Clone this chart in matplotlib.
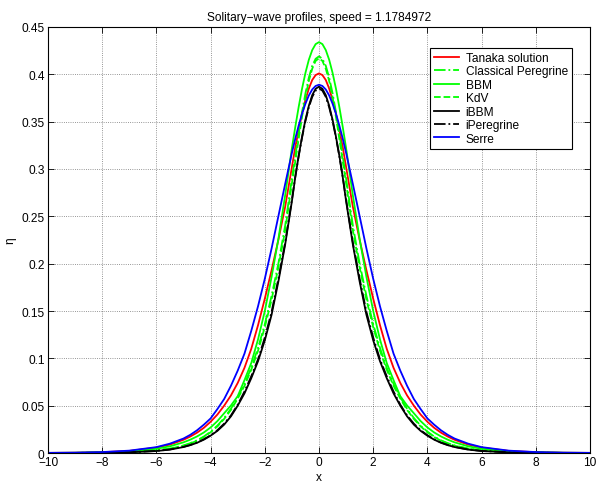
import numpy as np
import matplotlib
matplotlib.use("Agg")
import matplotlib.pyplot as plt
from matplotlib.ticker import FuncFormatter

# half profiles (x >= 0), curves are symmetric about x = 0
x_half = [0, 0.125, 0.25, 0.375, 0.5, 0.625, 0.75, 0.875, 1, 1.25, 1.5, 1.75,
          2, 2.25, 2.5, 2.75, 3, 3.25, 3.5, 3.75, 4, 4.25, 4.5, 4.75, 5, 5.5,
          6, 7, 8, 9, 10]

tanaka = [0.401, 0.3992, 0.394, 0.385, 0.373, 0.3586, 0.341, 0.3232, 0.302,
          0.260, 0.225, 0.193, 0.163, 0.135, 0.110, 0.090, 0.074, 0.0608,
          0.050, 0.0406, 0.033, 0.0266, 0.0215, 0.0174, 0.014, 0.0089, 0.0057,
          0.0022, 0.00085, 0.00033, 0.00013]
peregrine = [0.419, 0.4164, 0.409, 0.3965, 0.380, 0.3601, 0.337, 0.3136, 0.290,
             0.240, 0.200, 0.166, 0.136, 0.111, 0.090, 0.073, 0.059, 0.0467,
             0.037, 0.0289, 0.0226, 0.0174, 0.0134, 0.0104, 0.0080, 0.0047,
             0.0028, 0.0010, 0.00035, 0.00012, 0.00004]
bbm = [0.434, 0.4319, 0.4256, 0.4154, 0.4016, 0.3849, 0.3656, 0.3445, 0.322,
       0.272, 0.226, 0.186, 0.150, 0.120, 0.095, 0.077, 0.060, 0.0502, 0.042,
       0.0337, 0.027, 0.0217, 0.0175, 0.0141, 0.0113, 0.0071, 0.0045, 0.0017,
       0.00065, 0.00025, 0.0001]
kdv = [0.417, 0.4142, 0.406, 0.3931, 0.376, 0.3551, 0.332, 0.308, 0.285,
       0.235, 0.196, 0.162, 0.133, 0.108, 0.088, 0.071, 0.0575, 0.0455, 0.036,
       0.0281, 0.0219, 0.0169, 0.0130, 0.0100, 0.0077, 0.0046, 0.0027,
       0.00095, 0.00034, 0.00012, 0.00004]
ibbm = [0.387, 0.3847, 0.378, 0.3668, 0.3521, 0.3342, 0.3141, 0.2915, 0.266,
        0.220, 0.181, 0.146, 0.119, 0.097, 0.079, 0.063, 0.050, 0.0387, 0.030,
        0.0234, 0.0183, 0.0141, 0.0108, 0.0083, 0.0063, 0.0036, 0.0021,
        0.0007, 0.00025, 0.0001, 0.00003]
iperegrine = [0.385, 0.3828, 0.3762, 0.3652, 0.3508, 0.3333, 0.3136, 0.2918,
              0.2675, 0.222, 0.184, 0.149, 0.122, 0.099, 0.081, 0.065, 0.051,
              0.0397, 0.031, 0.0241, 0.0188, 0.0145, 0.0111, 0.0085, 0.0065,
              0.0038, 0.0022, 0.00075, 0.00026, 0.0001, 0.00003]
serre = [0.389, 0.3877, 0.384, 0.3777, 0.369, 0.3585, 0.346, 0.3321, 0.317,
         0.284, 0.250, 0.216, 0.184, 0.155, 0.129, 0.105, 0.087, 0.0710, 0.057,
         0.0464, 0.0365, 0.0299, 0.0240, 0.0192, 0.0153, 0.0099, 0.0062,
         0.0025, 0.00099, 0.00039, 0.00016]

labels = ["Tanaka solution", "Classical Peregrine", "BBM", "KdV", "iBBM",
          "iPeregrine", "Serre"]


def full(vals):
    # mirror half profile to both sides
    v = np.array(vals)
    return np.concatenate([v[::-1], v[1:]])


xh = np.array(x_half)
x = np.concatenate([-xh[::-1], xh[1:]])

plt.rcParams["font.family"] = ["Liberation Sans", "DejaVu Sans"]
plt.rcParams["font.size"] = 8.6

fig = plt.figure(figsize=(5.97, 4.85), dpi=100)
ax = fig.add_axes([0.0804, 0.0639, 0.9079, 0.8784])

lw = 1.3
ax.plot(x, full(tanaka), color="red", ls="-", lw=lw, label=labels[0])
ax.plot(x, full(peregrine), color=(0, 1, 0), ls="-.", lw=lw, label=labels[1])
ax.plot(x, full(bbm), color=(0, 1, 0), ls="-", lw=lw, label=labels[2])
ax.plot(x, full(kdv), color=(0, 1, 0), ls="--", lw=lw, label=labels[3])
ax.plot(x, full(ibbm), color="black", ls="-", lw=lw, label=labels[4])
ax.plot(x, full(iperegrine), color="black", ls="-.", lw=lw, label=labels[5])
ax.plot(x, full(serre), color="blue", ls="-", lw=lw, label=labels[6])

ax.set_xlim(-10, 10)
ax.set_ylim(0, 0.45)
ax.set_xticks(np.arange(-10, 11, 2))
ax.set_yticks(np.arange(0, 0.451, 0.05))
ax.yaxis.set_major_formatter(FuncFormatter(lambda v, p: f"{v:.2f}".rstrip("0").rstrip(".")))
ax.tick_params(direction="in", top=True, right=True, length=4, width=0.6,
               labelsize=8.6, pad=2.5)
ax.grid(True, ls=":", color="black", lw=0.6, alpha=0.55)
for s in ax.spines.values():
    s.set_linewidth(0.8)

ax.set_title("Solitary\u2212wave profiles, speed = 1.1784972", fontsize=8.6, pad=5)
ax.set_xlabel("x", labelpad=2)
ax.set_ylabel("\u03b7", labelpad=4)

leg = ax.legend(loc="upper right", bbox_to_anchor=(0.967, 0.951),
                borderaxespad=0, fancybox=False, framealpha=1,
                edgecolor="black", handlelength=2.1, handletextpad=0.56,
                labelspacing=0.12, borderpad=0.35)
leg.get_frame().set_linewidth(0.8)

fig.savefig("out.png", dpi=100)
